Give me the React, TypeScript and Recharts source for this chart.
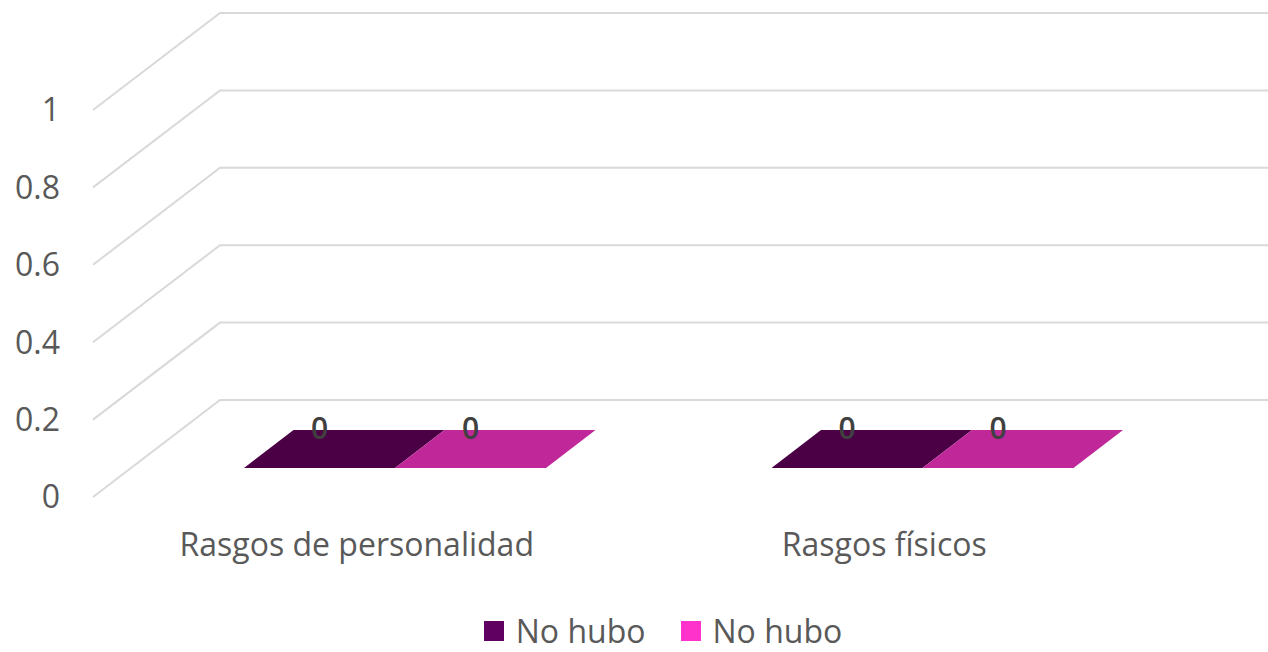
import React from "react";
import {
  Bar,
  BarChart,
  CartesianGrid,
  LabelList,
  Legend,
  XAxis,
  YAxis,
} from "recharts";

const categories = ["Rasgos de personalidad", "Rasgos físicos"];
const seriesNames = ["No hubo", "No hubo"];
const darkValues = [0, 0];
const pinkValues = [0, 0];
const yTicks = [0, 0.2, 0.4, 0.6, 0.8, 1];

const data = categories.map((name, i) => ({
  name,
  dark: darkValues[i],
  pink: pinkValues[i],
}));

// depth of the 3D box
const DX = 127;
const DY = 97;
const Z0 = 0.3;
const Z1 = 0.69;
const FONT = "'Open Sans', sans-serif";
const TEXT = "#595959";

function GridLine(props: any) {
  const { x1, x2, y1, key } = props;
  return (
    <path
      key={key}
      d={`M${x1},${y1} L${x1 + DX},${y1 - DY} L${x2 + DX},${y1 - DY}`}
      stroke="#d9d9d9"
      strokeWidth={2}
      fill="none"
    />
  );
}

function Bar3D(props: any) {
  const { x, y, width, height, face, top, side } = props;
  const ox0 = Z0 * DX;
  const oy0 = Z0 * DY;
  const ox1 = Z1 * DX;
  const oy1 = Z1 * DY;
  const h = Math.max(0, height || 0);
  const fx = x + ox0;
  const fy = y - oy0;
  return (
    <g>
      {h > 0 && (
        <>
          <path
            d={`M${fx + width},${fy} L${x + width + ox1},${y - oy1} L${x + width + ox1},${y - oy1 + h} L${fx + width},${fy + h} Z`}
            fill={side}
          />
          <rect x={fx} y={fy} width={width} height={h} fill={face} />
        </>
      )}
      <path
        d={`M${fx},${fy} L${fx + width},${fy} L${x + width + ox1},${y - oy1} L${x + ox1},${y - oy1} Z`}
        fill={top}
      />
    </g>
  );
}

function ZeroLabel(props: any) {
  const { x, y, width, value } = props;
  return (
    <text
      x={x + width / 2 + Z0 * DX}
      y={y - 0.72 * DY}
      textAnchor="middle"
      dominantBaseline="central"
      fontFamily={FONT}
      fontSize={30}
      fontWeight={600}
      fill="#404040"
    >
      {value}
    </text>
  );
}

function LegendContent(props: any) {
  const { payload = [] } = props;
  return (
    <div
      style={{
        display: "flex",
        justifyContent: "center",
        gap: 35,
        fontFamily: FONT,
        fontSize: 32,
        color: TEXT,
        paddingLeft: 178,
      }}
    >
      {payload.map((p: any, i: number) => (
        <div key={i} style={{ display: "flex", alignItems: "center", gap: 12 }}>
          <span
            style={{ width: 20, height: 20, background: p.color, display: "inline-block" }}
          />
          <span>{p.value}</span>
        </div>
      ))}
    </div>
  );
}

export default function App() {
  return (
    <div style={{ position: "absolute", left: 0, top: 0, background: "#fff" }}>
      <BarChart
        width={1268}
        height={652}
        data={data}
        margin={{ top: 110, right: 120, left: 0, bottom: 0 }}
        barCategoryGap="21.4%"
        barGap={0}
      >
        <CartesianGrid vertical={false} horizontal={GridLine} />
        <XAxis
          dataKey="name"
          axisLine={false}
          tickLine={false}
          height={112}
          tickMargin={30}
          tick={{ fill: TEXT, fontSize: 32, fontFamily: FONT }}
        />
        <YAxis
          width={93}
          domain={[0, 1]}
          ticks={yTicks}
          axisLine={false}
          tickLine={false}
          tickMargin={27}
          tick={{ fill: TEXT, fontSize: 32, fontFamily: FONT }}
        />
        <Legend content={LegendContent} />
        <Bar
          dataKey="dark"
          name={seriesNames[0]}
          fill="#600060"
          isAnimationActive={false}
          shape={(p: any) => (
            <Bar3D {...p} face="#5a0055" top="#4b0046" side="#3a0036" />
          )}
        >
          <LabelList dataKey="dark" content={ZeroLabel} />
        </Bar>
        <Bar
          dataKey="pink"
          name={seriesNames[1]}
          fill="#ff33cc"
          isAnimationActive={false}
          shape={(p: any) => (
            <Bar3D {...p} face="#e030b8" top="#c0289a" side="#9e2080" />
          )}
        >
          <LabelList dataKey="pink" content={ZeroLabel} />
        </Bar>
      </BarChart>
    </div>
  );
}
